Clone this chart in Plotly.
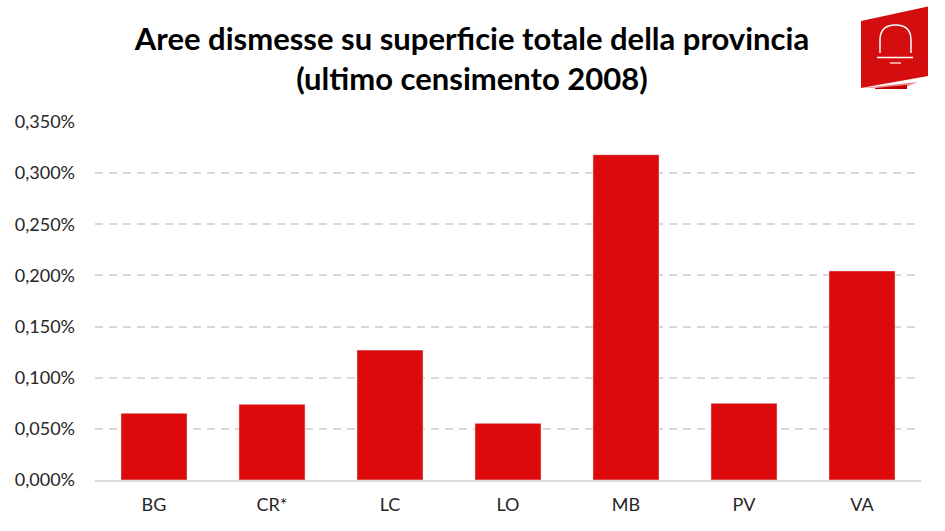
import plotly.graph_objects as go

categories = ["BG", "CR*", "LC", "LO", "MB", "PV", "VA"]
values = [0.000652, 0.000740, 0.001270, 0.000554, 0.003180, 0.000750, 0.002044]
y_ticks = [0, 0.0005, 0.001, 0.0015, 0.002, 0.0025, 0.003, 0.0035]

W, H = 945, 531
ML, MR, MT, MB_ = 95, 24, 122, 51
PW, PH = W - ML - MR, H - MT - MB_

def px(x):
    return (x - ML) / PW

def py(y):
    return (H - MB_ - y) / PH

RED = "#DC0A0A"

fig = go.Figure()
fig.add_trace(go.Bar(x=categories, y=values, marker_color=RED, width=0.56))

font = "Lato, Calibri, Carlito, sans-serif"

shapes = []
# logo layers
shapes.append(dict(type="path", xref="paper", yref="paper",
                   path=f"M {px(862)},{py(88)} L {px(918)},{py(82)} L {px(905)},{py(87)} Z",
                   fillcolor="#F08080", line=dict(width=0), layer="above"))
shapes.append(dict(type="path", xref="paper", yref="paper",
                   path=f"M {px(875)},{py(88)} L {px(907)},{py(85)} L {px(907)},{py(89)} L {px(875)},{py(89)} Z",
                   fillcolor="#C00000", line=dict(width=0), layer="above"))
shapes.append(dict(type="path", xref="paper", yref="paper",
                   path=f"M {px(861)},{py(21)} L {px(928)},{py(6.5)} L {px(928)},{py(76)} L {px(861)},{py(88)} Z",
                   fillcolor="#D40E0E", line=dict(width=0), layer="above"))
# bell
bell = f"M {px(880)},{py(53)} L {px(880)},{py(40)} Q {px(880)},{py(25)} {px(895.5)},{py(25)} Q {px(911)},{py(25)} {px(911)},{py(40)} L {px(911)},{py(53)}"
shapes.append(dict(type="path", xref="paper", yref="paper", path=bell,
                   line=dict(color="white", width=1.5), layer="above"))
shapes.append(dict(type="line", xref="paper", yref="paper",
                   x0=px(877), x1=px(913), y0=py(57.5), y1=py(57.5),
                   line=dict(color="white", width=1.5), layer="above"))
shapes.append(dict(type="line", xref="paper", yref="paper",
                   x0=px(890), x1=px(901), y0=py(63), y1=py(63),
                   line=dict(color="white", width=1.2), layer="above"))

fig.update_layout(
    width=W, height=H,
    margin=dict(l=ML, r=MR, t=MT, b=MB_, autoexpand=False),
    paper_bgcolor="white", plot_bgcolor="white",
    separators=",.",
    showlegend=False,
    bargap=0.44,
    font=dict(family=font, size=18, color="#262626"),
    title=dict(text="<b>Aree dismesse su superficie totale della provincia<br>(ultimo censimento 2008)</b>",
               x=472 / W, xref="container", xanchor="center", y=1 - 50 / H, yanchor="middle",
               font=dict(family=font, size=31, color="black")),
    xaxis=dict(showline=True, linecolor="#D9D9D9", linewidth=1.5, ticks="",
               tickfont=dict(size=18, color="#262626"), ticklabelstandoff=8),
    yaxis=dict(range=[0, 0.0035], tickvals=y_ticks, tickformat=".3%",
               showgrid=True, gridcolor="#D9D9D9", gridwidth=1.5, griddash="8px,6px",
               zeroline=False, showline=False, ticks="",
               tickfont=dict(size=18, color="#262626"), ticklabelstandoff=19),
    shapes=shapes,
)

fig.write_html("out.html", config={"displayModeBar": False},
               post_script="document.body.style.margin='0';")
